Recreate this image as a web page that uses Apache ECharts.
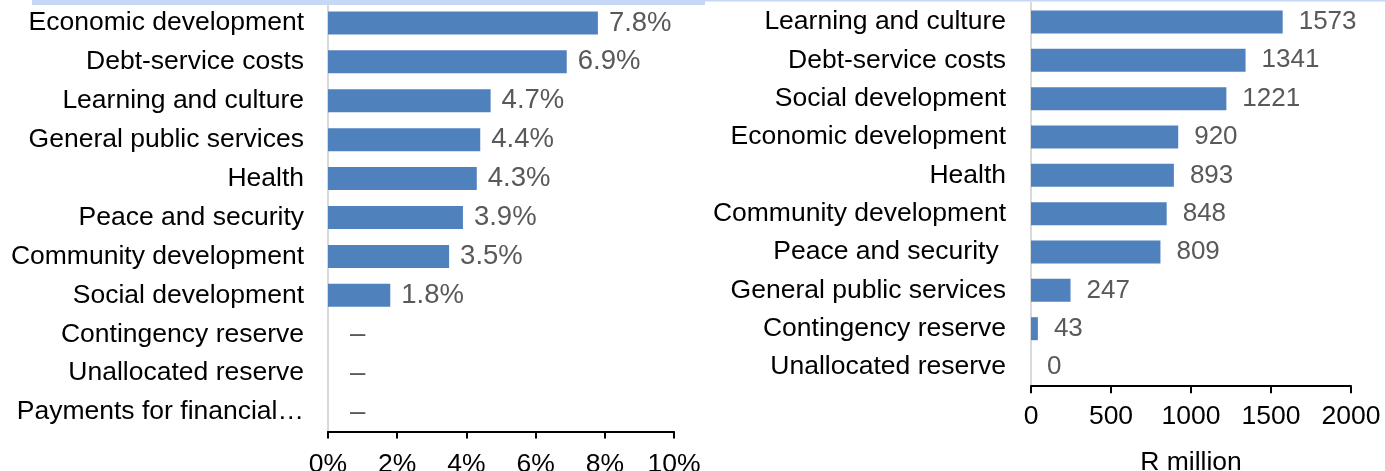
<!DOCTYPE html>
<html>
<head>
<meta charset="utf-8">
<script src="https://cdn.jsdelivr.net/npm/echarts@6/dist/echarts.min.js"></script>
<style>
html,body{margin:0;padding:0;background:#fff;}
#c{width:1385px;height:471px;}
</style>
</head>
<body>
<div id="c"></div>
<script>
// Left panel: share (%)
const leftCategories = ["Economic development","Debt-service costs","Learning and culture","General public services","Health","Peace and security","Community development","Social development","Contingency reserve","Unallocated reserve","Payments for financial…"];
const leftValues = [7.8, 6.9, 4.7, 4.4, 4.3, 3.9, 3.5, 1.8, null, null, null];
const leftTicks = ["0%","2%","4%","6%","8%","10%"];

// Right panel: R million
const rightCategories = ["Learning and culture","Debt-service costs","Social development","Economic development","Health","Community development","Peace and security ","General public services","Contingency reserve","Unallocated reserve"];
const rightValues = [1573, 1341, 1221, 920, 893, 848, 809, 247, 43, 0];
const rightTicks = ["0","500","1000","1500","2000"];
const rightAxisName = "R million";

const FONT = "Liberation Sans, Arial, sans-serif";
const BAR = "#4f81bd";

const chart = echarts.init(document.getElementById('c'), null, {renderer: 'canvas'});

const leftData = leftValues.map(v => v === null
  ? {value: 0, label: {formatter: '–', distance: 22}}
  : {value: v});

chart.setOption({
  animation: false,
  backgroundColor: '#fff',
  graphic: [
    {type: 'rect', shape: {x: 32, y: 0, width: 673, height: 5}, style: {fill: '#c6d8f5'}, silent: true},
    {type: 'rect', shape: {x: 705, y: 0, width: 680, height: 1.5}, style: {fill: '#c6d8f5'}, silent: true}
  ],
  grid: [
    {left: 328, top: 3.5, width: 346, height: 428, containLabel: false, outerBoundsMode: 'none'},
    {left: 1031, top: 2.8, width: 320, height: 383.4, containLabel: false, outerBoundsMode: 'none'}
  ],
  xAxis: [
    {
      gridIndex: 0, type: 'value', min: 0, max: 10, interval: 2,
      axisLine: {show: true, lineStyle: {color: '#000', width: 2}},
      axisTick: {show: true, inside: false, length: 7, lineStyle: {color: '#000', width: 2}},
      splitLine: {show: false},
      axisLabel: {margin: 20, fontFamily: FONT, fontSize: 26.5, color: '#000',
        formatter: (v) => leftTicks[Math.round(v / 2)]}
    },
    {
      gridIndex: 1, type: 'value', min: 0, max: 2000, interval: 500,
      axisLine: {show: true, lineStyle: {color: '#000', width: 2}},
      axisTick: {show: true, inside: false, length: 7, lineStyle: {color: '#000', width: 2}},
      splitLine: {show: false},
      axisLabel: {margin: 17, fontFamily: FONT, fontSize: 26.5, color: '#000',
        formatter: (v) => rightTicks[Math.round(v / 500)]},
      name: rightAxisName, nameLocation: 'middle', nameGap: 63,
      nameTextStyle: {fontFamily: FONT, fontSize: 26.5, color: '#000'}
    }
  ],
  yAxis: [
    {
      gridIndex: 0, type: 'category', data: leftCategories, inverse: true,
      axisLine: {show: true, lineStyle: {color: '#d9d9d9', width: 2}},
      axisTick: {show: false},
      axisLabel: {margin: 24, fontFamily: FONT, fontSize: 26.5, color: '#000'}
    },
    {
      gridIndex: 1, type: 'category', data: rightCategories, inverse: true,
      axisLine: {show: true, lineStyle: {color: '#d9d9d9', width: 2}},
      axisTick: {show: false},
      axisLabel: {margin: 25, fontFamily: FONT, fontSize: 26.5, color: '#000'}
    }
  ],
  series: [
    {
      type: 'bar', xAxisIndex: 0, yAxisIndex: 0, data: leftData, barWidth: 23,
      itemStyle: {color: BAR},
      label: {show: true, position: 'right', distance: 11, fontFamily: FONT, fontSize: 27.5, color: '#595959',
        formatter: (p) => p.value.toFixed(1) + '%'}
    },
    {
      type: 'bar', xAxisIndex: 1, yAxisIndex: 1, data: rightValues, barWidth: 23,
      itemStyle: {color: BAR},
      label: {show: true, position: 'right', distance: 16, fontFamily: FONT, fontSize: 26, color: '#595959'}
    }
  ]
});
</script>
</body>
</html>
